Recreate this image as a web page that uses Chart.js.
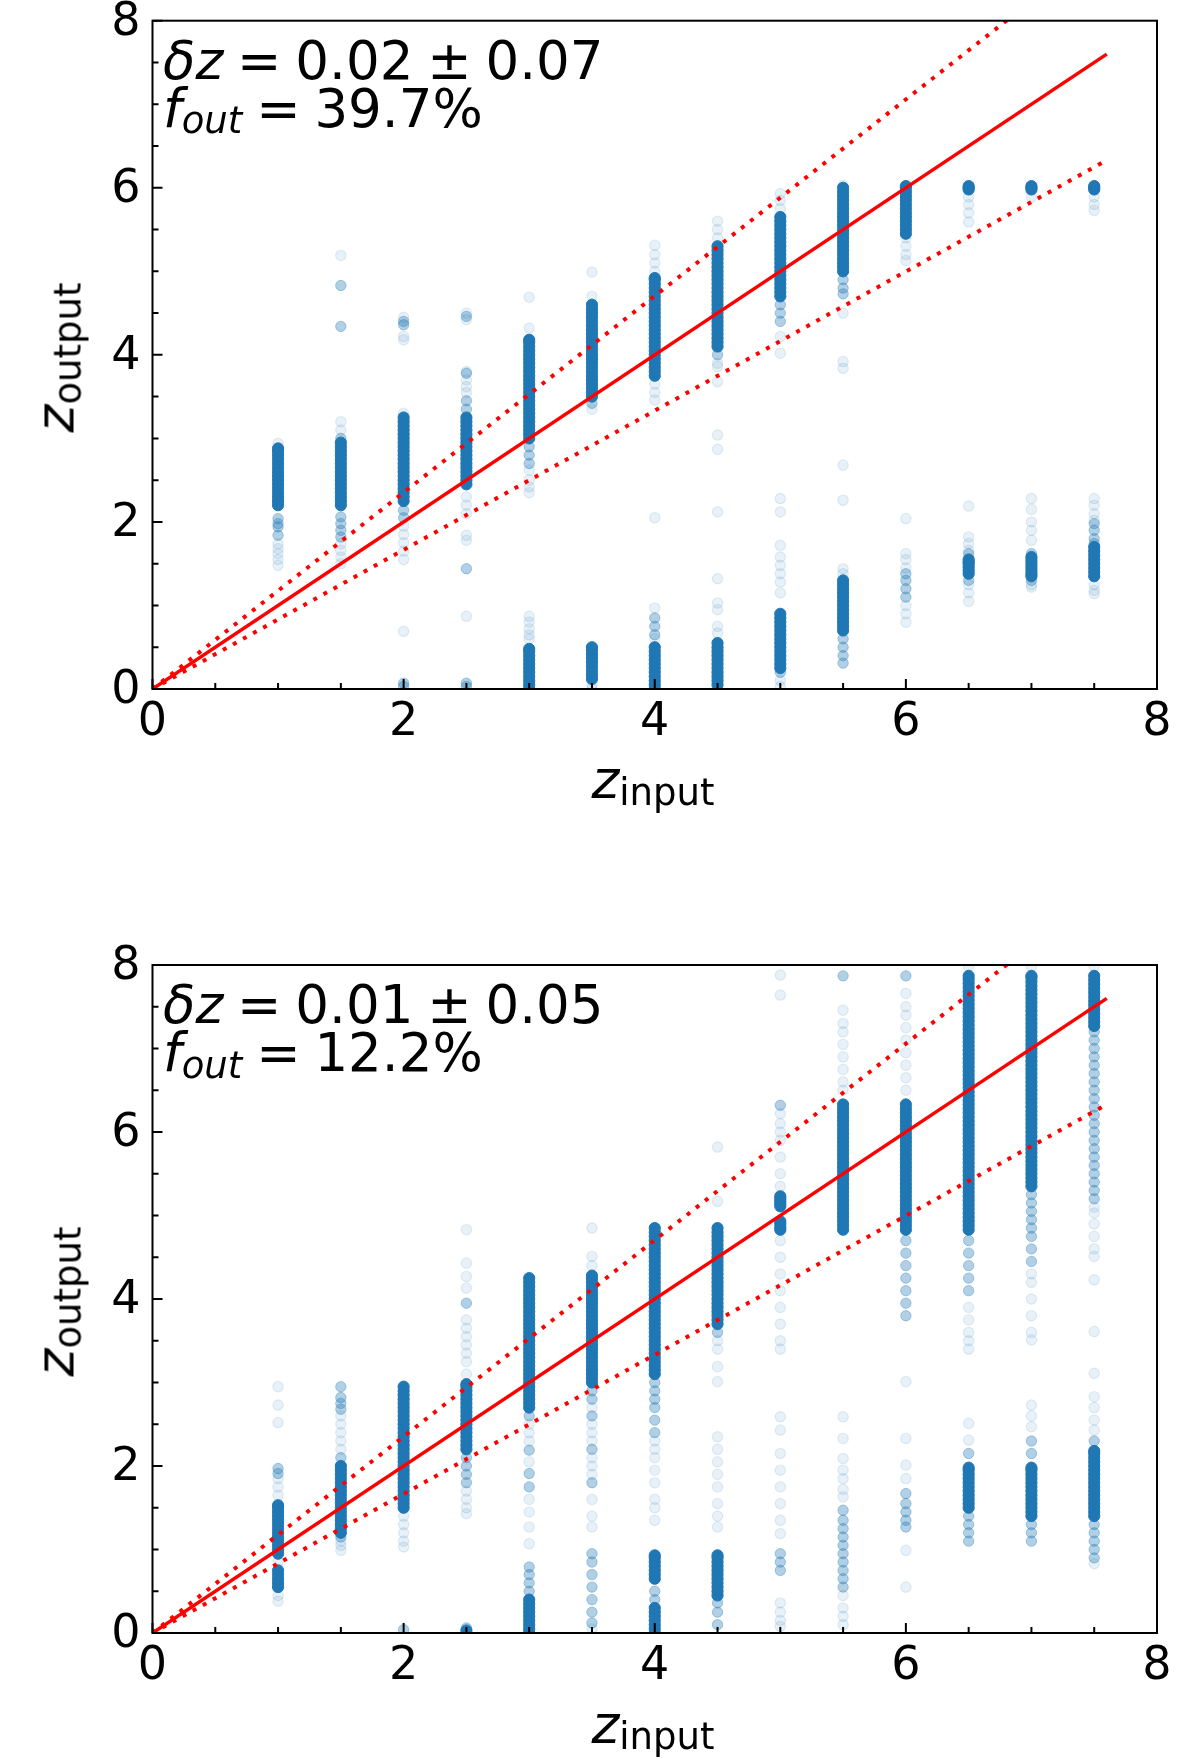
<!DOCTYPE html>
<html>
<head>
<meta charset="utf-8">
<script src="https://cdn.jsdelivr.net/npm/chart.js@4.4.1/dist/chart.umd.min.js"></script>
<style>
  html, body { margin:0; padding:0; background:#fff; }
  body { width:1200px; height:1759px; position:relative; overflow:hidden; font-family:'DejaVu Sans', sans-serif; color:#000; }
  canvas { position:absolute; left:0; }
  .ann { position:absolute; left:163px; font-size:53px; line-height:53px; white-space:nowrap; word-spacing:-3px; z-index:5; }
  .ann i { font-style:italic; }
  .sub { font-size:37px; line-height:37px; position:relative; top:6.6px; }
  .lab { position:absolute; width:300px; height:53px; font-size:53px; line-height:53px; text-align:center; white-space:nowrap; z-index:5; }
  .lab i { font-style:italic; }
  .ylab { transform:rotate(-90deg); }
</style>
</head>
<body>
<canvas id="c1" width="1200" height="880" style="top:0;width:1200px;height:880px"></canvas>
<canvas id="c2" width="1200" height="879" style="top:880px;width:1200px;height:879px"></canvas>

<div class="ann" id="a1l1" style="top:33.5px"></div>
<div class="ann" id="a1l2" style="top:81.9px"></div>
<div class="ann" id="a2l1" style="top:977.8px"></div>
<div class="ann" id="a2l2" style="top:1026.2px"></div>

<div class="lab ylab" style="left:-95px;top:330.5px"><i>z</i><span class="sub" style="font-style:normal">output</span></div>
<div class="lab" style="left:503px;top:753.2px"><i>z</i><span class="sub">input</span></div>
<div class="lab ylab" style="left:-95px;top:1274.8px"><i>z</i><span class="sub" style="font-style:normal">output</span></div>
<div class="lab" style="left:503px;top:1697.5px"><i>z</i><span class="sub">input</span></div>

<script>
// ---------------- DATA ----------------
const xCols = [1, 1.5, 2, 2.5, 3, 3.5, 4, 4.5, 5, 5.5, 6, 6.5, 7, 7.5];
const tickVals = [0, 2, 4, 6, 8];
const minorTicks = [0.5, 1, 1.5, 2.5, 3, 3.5, 4.5, 5, 5.5, 6.5, 7, 7.5];

// one-to-one line and outlier limits (z_in -> z_out)
const fitX = [0, 7.6];
const fitY = [0, 7.6];
const upperY = [0, 8.94];
const lowerY = [0, 6.33];

// statistics printed in each panel
const topStats = ['0.02', '0.07', '39.7%'];
const botStats = ['0.01', '0.05', '12.2%'];

// top panel: z_output values per z_input column (dense / medium / faint)
const topDense = [
  [2.2,2.25,2.3,2.35,2.4,2.45,2.5,2.55,2.6,2.65,2.7,2.75,2.8,2.85,2.88],
  [2.2,2.25,2.3,2.35,2.4,2.45,2.5,2.55,2.6,2.65,2.7,2.75,2.8,2.85,2.9,2.95],
  [2.25,2.3,2.35,2.4,2.45,2.5,2.55,2.6,2.65,2.7,2.75,2.8,2.85,2.9,2.95,3.0,3.05,3.1,3.15,3.2,3.25],
  [2.45,2.5,2.55,2.6,2.65,2.7,2.75,2.8,2.85,2.9,2.95,3.0,3.05,3.1,3.15,3.2,3.25],
  [3.0,3.05,3.1,3.15,3.2,3.25,3.3,3.35,3.4,3.45,3.5,3.55,3.6,3.65,3.7,3.75,3.8,3.85,3.9,3.95,4.0,4.05,4.1,4.15,4.18,
   0.0,0.05,0.1,0.15,0.2,0.25,0.3,0.35,0.4,0.45,0.48],
  [3.5,3.55,3.6,3.65,3.7,3.75,3.8,3.85,3.9,3.95,4.0,4.05,4.1,4.15,4.2,4.25,4.3,4.35,4.4,4.45,4.5,4.55,4.6,
   0.12,0.17,0.22,0.27,0.32,0.37,0.42,0.47,0.5],
  [3.75,3.8,3.85,3.9,3.95,4.0,4.05,4.1,4.15,4.2,4.25,4.3,4.35,4.4,4.45,4.5,4.55,4.6,4.65,4.7,4.75,4.8,4.85,4.9,4.92,
   0.0,0.05,0.1,0.15,0.2,0.25,0.3,0.35,0.4,0.45,0.5],
  [4.1,4.15,4.2,4.25,4.3,4.35,4.4,4.45,4.5,4.55,4.6,4.65,4.7,4.75,4.8,4.85,4.9,4.95,5.0,5.05,5.1,5.15,5.2,5.25,5.3,
   0.05,0.1,0.15,0.2,0.25,0.3,0.35,0.4,0.45,0.5,0.55],
  [4.7,4.75,4.8,4.85,4.9,4.95,5.0,5.05,5.1,5.15,5.2,5.25,5.3,5.35,5.4,5.45,5.5,5.55,5.6,5.65,
   0.25,0.3,0.35,0.4,0.45,0.5,0.55,0.6,0.65,0.7,0.75,0.8,0.85,0.9],
  [5.0,5.05,5.1,5.15,5.2,5.25,5.3,5.35,5.4,5.45,5.5,5.55,5.6,5.65,5.7,5.75,5.8,5.85,5.9,5.95,6.0,
   0.7,0.75,0.8,0.85,0.9,0.95,1.0,1.05,1.1,1.15,1.2,1.25,1.3],
  [5.45,5.5,5.55,5.6,5.65,5.7,5.75,5.8,5.85,5.9,5.95,6.0,6.02],
  [5.98,6.0,6.02,1.38,1.42,1.46,1.5,1.52,1.55],
  [5.98,6.0,6.02,1.35,1.38,1.42,1.46,1.5,1.54,1.58],
  [5.98,6.0,6.02,1.35,1.4,1.45,1.5,1.55,1.6,1.65,1.7]
];
const topMedium = [
  [2.04,1.98,1.94,1.84],
  [2.06,1.98,1.9,1.82,4.83,4.34,3.0],
  [4.4,4.36,2.14,2.05,0.07,0.03],
  [3.35,3.45,1.44,0.07,0.03,4.46,3.78],
  [2.7,2.8,2.9],
  [3.42],
  [0.65,0.75,0.85],
  [4.0],
  [4.6,4.5,4.4,0.2],
  [4.9,4.8,4.73,0.6,0.5,0.4,0.31],
  [1.38,1.3,1.2,1.1],
  [1.62,1.3],
  [1.62,1.3],
  [1.98,1.9,1.8,1.74]
];
const topFaint = [
  [1.74,1.68,1.62,1.55,1.48,2.94],
  [5.19,3.2,3.1,1.74,1.66,1.58,1.5],
  [4.45,4.22,4.18,3.3,1.95,1.85,1.75,1.65,1.55,0.69],
  [4.5,4.42,3.8,3.7,3.62,3.55,2.3,2.2,2.1,1.84,1.78,0.87],
  [4.69,4.32,2.62,2.5,2.42,2.35,0.87,0.8,0.72,0.65,0.6],
  [4.99,4.7,3.35,0.05,0.0],
  [5.31,5.2,5.1,5.0,3.65,3.55,3.46,2.05,0.97,0.6],
  [5.6,5.5,5.4,3.9,3.86,3.68,3.04,2.87,2.12,1.32,1.03,0.95,0.75,0.67],
  [5.93,5.85,5.75,4.22,4.02,2.28,2.12,1.72,1.58,1.48,1.38,1.28,1.15,0.1,0.03],
  [6.03,4.5,3.92,3.84,2.68,2.26,1.44,1.38],
  [5.4,5.3,5.2,5.13,2.04,1.62,1.55,1.45,1.0,0.9,0.8],
  [5.89,5.8,5.7,5.59,2.19,1.82,1.74,1.66,1.25,1.15,1.05],
  [5.89,2.28,2.15,2.0,1.9,1.78,1.25,1.22],
  [5.89,5.8,5.73,2.28,2.2,2.1,2.02,1.25,1.18,1.14]
];

// bottom panel
const botDense = [
  [0.95,1.0,1.05,1.1,1.15,1.2,1.25,1.3,1.35,1.4,1.45,1.5,1.53,0.55,0.6,0.65,0.7,0.75],
  [1.2,1.25,1.3,1.35,1.4,1.45,1.5,1.55,1.6,1.65,1.7,1.75,1.8,1.85,1.9,1.95,2.0],
  [1.5,1.55,1.6,1.65,1.7,1.75,1.8,1.85,1.9,1.95,2.0,2.05,2.1,2.15,2.2,2.25,2.3,2.35,2.4,2.45,2.5,2.55,2.6,2.65,2.7,2.75,2.8,2.85,2.9,2.95],
  [2.2,2.25,2.3,2.35,2.4,2.45,2.5,2.55,2.6,2.65,2.7,2.75,2.8,2.85,2.9,2.95,2.98,0.03],
  [2.7,2.75,2.8,2.85,2.9,2.95,3.0,3.05,3.1,3.15,3.2,3.25,3.3,3.35,3.4,3.45,3.5,3.55,3.6,3.65,3.7,3.75,3.8,3.85,3.9,3.95,4.0,4.05,4.1,4.15,4.2,4.25,
   0.0,0.05,0.1,0.15,0.2,0.25,0.3,0.35,0.4],
  [3.0,3.05,3.1,3.15,3.2,3.25,3.3,3.35,3.4,3.45,3.5,3.55,3.6,3.65,3.7,3.75,3.8,3.85,3.9,3.95,4.0,4.05,4.1,4.15,4.2,4.25,4.28],
  [3.1,3.15,3.2,3.25,3.3,3.35,3.4,3.45,3.5,3.55,3.6,3.65,3.7,3.75,3.8,3.85,3.9,3.95,4.0,4.05,4.1,4.15,4.2,4.25,4.3,4.35,4.4,4.45,4.5,4.55,4.6,4.65,4.7,4.75,4.8,4.85,
   0.0,0.05,0.1,0.15,0.2,0.25,0.3,0.65,0.7,0.75,0.8,0.85,0.9,0.93],
  [3.7,3.75,3.8,3.85,3.9,3.95,4.0,4.05,4.1,4.15,4.2,4.25,4.3,4.35,4.4,4.45,4.5,4.55,4.6,4.65,4.7,4.75,4.8,4.85,
   0.45,0.5,0.55,0.6,0.65,0.7,0.75,0.8,0.85,0.9,0.93],
  [4.83,4.86,4.9,4.93,5.11,5.14,5.17,5.2,5.23],
  [4.83,4.88,4.93,4.98,5.03,5.08,5.13,5.18,5.23,5.28,5.33,5.38,5.43,5.48,5.53,5.58,5.63,5.68,5.73,5.78,5.83,5.88,5.93,5.98,6.03,6.08,6.13,6.18,6.23,6.28,6.33],
  [4.83,4.88,4.93,4.98,5.03,5.08,5.13,5.18,5.23,5.28,5.33,5.38,5.43,5.48,5.53,5.58,5.63,5.68,5.73,5.78,5.83,5.88,5.93,5.98,6.03,6.08,6.13,6.18,6.23,6.28,6.33],
  [4.83,4.88,4.93,4.98,5.03,5.08,5.13,5.18,5.23,5.28,5.33,5.38,5.43,5.48,5.53,5.58,5.63,5.68,5.73,5.78,5.83,5.88,5.93,5.98,6.03,6.08,6.13,6.18,6.23,6.28,6.33,
   6.38,6.43,6.48,6.53,6.58,6.63,6.68,6.73,6.78,6.83,6.88,6.93,6.98,7.03,7.08,7.13,7.18,7.23,7.28,7.33,7.38,7.43,7.48,7.53,7.58,7.63,7.68,7.73,7.78,7.83,7.87,
   1.5,1.55,1.6,1.65,1.7,1.75,1.8,1.85,1.9,1.95,1.98],
  [5.35,5.4,5.45,5.5,5.55,5.6,5.65,5.7,5.75,5.8,5.85,5.9,5.95,6.0,6.05,6.1,6.15,6.2,6.25,6.3,6.35,6.4,6.45,6.5,6.55,6.6,6.65,6.7,6.75,6.8,6.85,6.9,6.95,
   7.0,7.05,7.1,7.15,7.2,7.25,7.3,7.35,7.4,7.45,7.5,7.55,7.6,7.65,7.7,7.75,7.8,7.85,7.87,
   1.4,1.45,1.5,1.55,1.6,1.65,1.7,1.75,1.8,1.85,1.9,1.95,1.98],
  [7.27,7.32,7.37,7.42,7.47,7.52,7.57,7.62,7.67,7.72,7.77,7.82,7.87,
   1.4,1.45,1.5,1.55,1.6,1.65,1.7,1.75,1.8,1.85,1.9,1.95,2.0,2.05,2.1,2.15,2.18]
];
const botMedium = [
  [1.97,1.91],
  [2.95,2.82,2.75,2.68,2.1,1.15],
  [0.04],
  [3.95,2.1,2.0,1.9,1.8,0.06],
  [2.6,2.19,1.91,1.75,0.5,0.6,0.7,0.79],
  [2.9,2.8,2.6,2.2,1.8,0.95,0.85,0.7,0.55,0.4,0.25,0.12],
  [3.0,2.9,2.8,2.7,2.55,2.4,0.4,0.5],
  [3.6,0.36,0.25,0.1],
  [6.32,0.95,0.85,0.75],
  [7.87,1.47,1.35,1.25,1.15,1.05,0.95,0.85,0.75,0.65,0.55],
  [7.87,4.7,4.55,4.4,4.25,4.1,3.95,3.8,1.67,1.55,1.45,1.35,1.27],
  [4.7,4.55,4.4,4.25,4.1,2.15,1.4,1.3,1.2,1.1],
  [5.25,5.15,5.05,4.95,4.85,4.75,4.6,4.45,2.3,2.15,1.3,1.2,1.1],
  [7.2,7.1,7.0,6.9,6.8,6.7,6.6,6.5,6.4,6.3,6.2,6.1,6.0,5.9,5.8,5.7,5.6,5.5,5.4,5.3,5.2,2.3,1.3,1.2,1.1,1.0,0.9]
];
const botFaint = [
  [2.95,2.73,2.52,1.85,1.75,1.65,0.85,0.45,0.38],
  [2.6,2.5,2.4,2.3,2.2,1.1,1.05,0.99],
  [1.4,1.3,1.2,1.1,1.03],
  [4.83,4.43,4.27,4.13,3.75,3.65,3.55,3.45,3.35,3.25,3.1,1.7,1.6,1.5,1.43],
  [2.5,2.4,2.3,2.05,1.6,1.45,1.27,1.07],
  [4.85,4.51,4.4,2.7,2.5,2.4,2.3,2.1,2.0,1.9,1.6,1.4,1.27,0.05],
  [2.3,2.2,2.1,1.95,1.8,1.6,1.5,1.35],
  [5.82,5.17,3.5,3.4,3.19,3.01,2.35,2.2,2.05,1.9,1.75,1.55,1.4,1.27],
  [7.88,7.64,6.22,6.1,6.0,5.9,5.7,5.5,5.35,4.7,4.5,4.3,4.1,3.9,3.7,3.5,3.4,2.59,2.43,2.15,1.95,1.75,1.55,1.35,1.19,0.36,0.25,0.15,0.08],
  [7.46,7.3,7.2,7.05,6.9,6.75,6.6,6.5,2.59,2.33,2.09,1.95,1.85,1.72,1.63,0.45,0.3,0.2,0.1],
  [7.66,7.5,7.4,7.25,7.1,6.95,6.8,6.65,6.5,3.01,2.33,2.01,1.85,0.99,0.55],
  [7.98,3.9,3.75,3.6,3.5,3.4,2.51,2.31],
  [7.98,4.3,4.2,4.0,3.8,3.6,3.51,2.73,2.6,2.47],
  [7.98,5.1,5.03,4.9,4.75,4.6,4.51,4.23,3.61,3.11,2.83,2.7,2.55,2.43,0.83]
];

// ---------------- TEXT ----------------
function setStats(id1, id2, s) {
  document.getElementById(id1).innerHTML = '<i>δz</i> = ' + s[0] + ' ± ' + s[1];
  document.getElementById(id2).innerHTML = '<i>f</i><span class="sub" style="font-style:italic">out</span> = ' + s[2];
}
setStats('a1l1', 'a1l2', topStats);
setStats('a2l1', 'a2l2', botStats);

// ---------------- CHARTS ----------------
const BLUE = a => 'rgba(31,119,180,' + a + ')';
function pts(lists) {
  const out = [];
  lists.forEach((ys, i) => ys.forEach(y => out.push({ x: xCols[i], y: y })));
  return out;
}
function linePts(xs, ys) { return xs.map((x, i) => ({ x: x, y: ys[i] })); }

const framePlugin = {
  id: 'frame',
  afterDatasetsDraw(chart) {
    const { ctx, chartArea: a, scales } = chart;
    const xs = scales.x, ys = scales.y;
    ctx.save();
    ctx.strokeStyle = '#000';
    ctx.lineWidth = 2;
    const all = tickVals.map(v => [v, 10]).concat(minorTicks.map(v => [v, 6]));
    ctx.beginPath();
    all.forEach(([v, len]) => {
      const px = xs.getPixelForValue(v);
      ctx.moveTo(px, a.bottom); ctx.lineTo(px, a.bottom - len);
      const py = ys.getPixelForValue(v);
      ctx.moveTo(a.left, py); ctx.lineTo(a.left + len, py);
    });
    ctx.stroke();
    ctx.lineWidth = 2;
    ctx.strokeRect(a.left, a.top, a.right - a.left, a.bottom - a.top);
    ctx.restore();
  }
};

function makeChart(id, dense, medium, faint, padTop, xHeight) {
  const tickFont = { family: 'DejaVu Sans', size: 46 };
  return new Chart(document.getElementById(id), {
    type: 'scatter',
    data: {
      datasets: [
        { data: linePts(fitX, fitY), showLine: true, borderColor: '#ff0000', borderWidth: 3.5, pointRadius: 0, order: 0 },
        { data: linePts(fitX, upperY), showLine: true, borderColor: '#ff0000', borderWidth: 4, borderDash: [4, 7.5], pointRadius: 0, order: 0 },
        { data: linePts(fitX, lowerY), showLine: true, borderColor: '#ff0000', borderWidth: 4, borderDash: [4, 7.5], pointRadius: 0, order: 0 },
        { data: pts(dense), pointRadius: 5.6, pointBackgroundColor: BLUE(1), pointBorderColor: BLUE(1), pointBorderWidth: 1, order: 1 },
        { data: pts(medium), pointRadius: 5.2, pointBackgroundColor: BLUE(0.35), pointBorderColor: BLUE(0.35), pointBorderWidth: 1, order: 2 },
        { data: pts(faint), pointRadius: 5.2, pointBackgroundColor: BLUE(0.1), pointBorderColor: BLUE(0.12), pointBorderWidth: 1.2, order: 3 }
      ]
    },
    options: {
      responsive: false,
      animation: false,
      devicePixelRatio: 1,
      events: [],
      layout: { padding: { top: padTop, right: 43, bottom: 0, left: 0 } },
      plugins: { legend: { display: false }, tooltip: { enabled: false } },
      scales: {
        x: {
          type: 'linear', min: 0, max: 8,
          grid: { display: false, drawTicks: false },
          border: { display: false },
          ticks: { font: tickFont, color: '#000', padding: 6, maxRotation: 0, autoSkip: false, callback: v => String(v) },
          afterBuildTicks: s => { s.ticks = tickVals.map(v => ({ value: v })); },
          afterFit: s => { s.height = xHeight; s.paddingLeft = 0; s.paddingRight = 0; }
        },
        y: {
          type: 'linear', min: 0, max: 8,
          grid: { display: false, drawTicks: false },
          border: { display: false },
          ticks: { font: tickFont, color: '#000', padding: 12, labelOffset: 2, autoSkip: false, callback: v => String(v) },
          afterBuildTicks: s => { s.ticks = tickVals.map(v => ({ value: v })); },
          afterFit: s => { s.width = 152.5; s.paddingTop = 0; s.paddingBottom = 0; }
        }
      }
    },
    plugins: [framePlugin]
  });
}

makeChart('c1', topDense, topMedium, topFaint, 20.7, 191);
makeChart('c2', botDense, botMedium, botFaint, 85, 126);
</script>
</body>
</html>
